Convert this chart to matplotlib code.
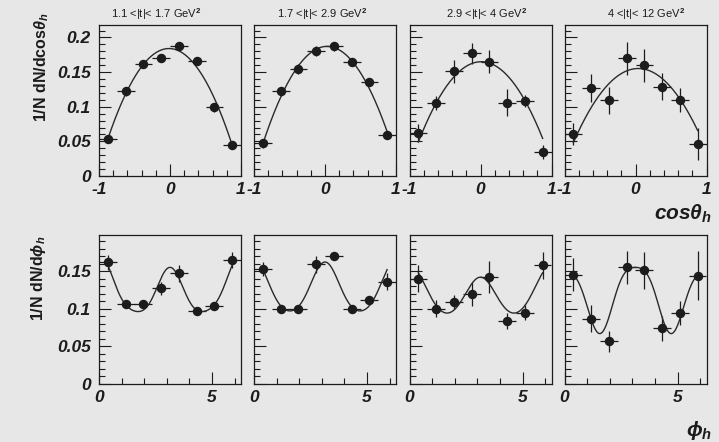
import numpy as np
import matplotlib
matplotlib.use("Agg")
import matplotlib.pyplot as plt
from matplotlib.ticker import FixedLocator, MultipleLocator, NullFormatter

plt.rcParams["font.family"] = ["Liberation Sans", "DejaVu Sans"]
plt.rcParams["mathtext.fontset"] = "custom"
plt.rcParams["mathtext.rm"] = "Liberation Sans:bold"
plt.rcParams["mathtext.it"] = "Liberation Sans:bold:italic"
plt.rcParams["mathtext.bf"] = "Liberation Sans:bold"

# |t| bins
t_bins = ["1.1 <|t|< 1.7 GeV$^{2}$", "1.7 <|t|< 2.9 GeV$^{2}$",
          "2.9 <|t|< 4 GeV$^{2}$", "4 <|t|< 12 GeV$^{2}$"]

# cos(theta_h) distributions
cos_centers = [-0.875, -0.625, -0.375, -0.125, 0.125, 0.375, 0.625, 0.875]
cos_halfwidth = 0.125
cos_vals = [
    [0.054, 0.122, 0.161, 0.170, 0.188, 0.166, 0.099, 0.045],
    [0.047, 0.122, 0.154, 0.180, 0.187, 0.165, 0.136, 0.059],
    [0.062, 0.106, 0.151, 0.177, 0.165, 0.106, 0.108, 0.035],
    [0.061, 0.127, 0.109, 0.170, 0.160, 0.129, 0.110, 0.046],
]
cos_errs = [
    [0.005, 0.006, 0.005, 0.005, 0.005, 0.005, 0.006, 0.005],
    [0.006, 0.007, 0.007, 0.007, 0.006, 0.006, 0.006, 0.006],
    [0.013, 0.010, 0.017, 0.015, 0.017, 0.019, 0.009, 0.010],
    [0.016, 0.020, 0.020, 0.024, 0.024, 0.019, 0.017, 0.023],
]
# fit: p0 + p1*cos + p2*cos^2
cos_fit = [
    [0.184, -0.005, -0.176],
    [0.187, 0.010, -0.172],
    [0.165, 0.003, -0.148],
    [0.155, 0.010, -0.128],
]

# phi_h distributions
phi_centers = [0.393, 1.178, 1.963, 2.749, 3.534, 4.320, 5.105, 5.890]
phi_halfwidth = 0.393
phi_vals = [
    [0.162, 0.106, 0.106, 0.127, 0.147, 0.097, 0.104, 0.165],
    [0.153, 0.100, 0.100, 0.159, 0.170, 0.100, 0.112, 0.136],
    [0.140, 0.100, 0.109, 0.119, 0.142, 0.084, 0.095, 0.158],
    [0.145, 0.087, 0.057, 0.155, 0.151, 0.074, 0.094, 0.144],
]
phi_errs = [
    [0.010, 0.004, 0.004, 0.009, 0.011, 0.004, 0.004, 0.011],
    [0.009, 0.004, 0.004, 0.011, 0.005, 0.004, 0.005, 0.011],
    [0.018, 0.011, 0.009, 0.016, 0.021, 0.011, 0.010, 0.018],
    [0.022, 0.018, 0.014, 0.022, 0.025, 0.017, 0.016, 0.033],
]
# fit: a + b cos(phi) + c cos(2phi) + d cos(4phi)
phi_fit = [
    [0.1256, 0.0092, 0.0336, 0.0050],
    [0.1270, 0.0016, 0.0333, 0.0034],
    [0.1208, 0.0080, 0.0277, 0.0015],
    [0.1175, -0.0030, 0.0425, -0.0080],
]

BG = "#e7e7e7"
INK = "#1c1c1c"
W, H = 719, 442
fig = plt.figure(figsize=(W / 100, H / 100), dpi=100, facecolor=BG)

col_left = [99, 254, 409.5, 564.5]
col_w = 142
rows = {"top": (25, 176), "bot": (235, 384)}


def make_axes(px_left, px_top, px_bottom):
    return fig.add_axes([px_left / W, 1 - px_bottom / H, col_w / W,
                         (px_bottom - px_top) / H], facecolor=BG)


def style(ax, show_y):
    for s in ax.spines.values():
        s.set_color(INK)
        s.set_linewidth(0.9)
    ax.tick_params(which="both", direction="in", top=False, right=False,
                   colors=INK, width=0.8)
    ax.tick_params(which="major", length=8.5)
    ax.tick_params(axis="y", which="major", pad=6)
    ax.tick_params(axis="x", which="major", pad=4)
    ax.tick_params(which="minor", length=4.3)
    for lab in ax.get_xticklabels() + ax.get_yticklabels():
        lab.set_fontfamily("Liberation Sans")
        lab.set_fontweight("bold")
        lab.set_fontstyle("italic")
        lab.set_fontsize(12.5)
    if not show_y:
        ax.yaxis.set_major_formatter(NullFormatter())


title_x = [156, 322, 487, 646]

for i in range(4):
    # cos(theta) row
    ax = make_axes(col_left[i], *rows["top"])
    ax.errorbar(cos_centers, cos_vals[i], xerr=cos_halfwidth, yerr=cos_errs[i],
                fmt="o", ms=5.8, color=INK, ecolor=INK, elinewidth=0.9, capsize=0)
    xc = np.linspace(cos_centers[0], cos_centers[-1], 300)
    p = cos_fit[i]
    ax.plot(xc, p[0] + p[1] * xc + p[2] * xc ** 2, color="#2a2a2a", lw=1.0)
    ax.set_xlim(-1, 1)
    ax.set_ylim(0, 0.218)
    ax.xaxis.set_major_locator(FixedLocator([-1, 0, 1]))
    ax.xaxis.set_minor_locator(MultipleLocator(0.2))
    ax.set_xticklabels(["-1", "0", "1"])
    ax.set_yticks([0, 0.05, 0.1, 0.15, 0.2])
    ax.yaxis.set_minor_locator(MultipleLocator(0.01))
    ax.set_yticklabels(["0", "0.05", "0.1", "0.15", "0.2"])
    style(ax, i == 0)
    fig.text(title_x[i] / W, 1 - 14 / H, t_bins[i], ha="center", va="center",
             fontsize=8, color=INK, family="Liberation Sans")

    # phi row
    ax = make_axes(col_left[i], *rows["bot"])
    ax.errorbar(phi_centers, phi_vals[i], xerr=phi_halfwidth, yerr=phi_errs[i],
                fmt="o", ms=5.8, color=INK, ecolor=INK, elinewidth=0.9, capsize=0)
    xp = np.linspace(phi_centers[0], phi_centers[-1], 400)
    a, b, c, d = phi_fit[i]
    ax.plot(xp, a + b * np.cos(xp) + c * np.cos(2 * xp) + d * np.cos(4 * xp),
            color="#2a2a2a", lw=1.0)
    ax.set_xlim(0, 2 * np.pi)
    ax.set_ylim(0, 0.198)
    ax.xaxis.set_major_locator(FixedLocator([0, 5]))
    ax.xaxis.set_minor_locator(FixedLocator([1, 2, 3, 4, 6]))
    ax.set_xticklabels(["0", "5"])
    ax.set_yticks([0, 0.05, 0.1, 0.15])
    ax.yaxis.set_minor_locator(MultipleLocator(0.01))
    ax.set_yticklabels(["0", "0.05", "0.1", "0.15"])
    style(ax, i == 0)

# axis titles
fig.text(42 / W, 1 - 12 / H, r"1/N dN/dcos$\theta_{h}$", rotation=90,
         ha="center", va="top", fontsize=11.5, fontweight="bold", color=INK)
fig.text(38 / W, 1 - 236 / H, r"1/N dN/d$\phi_{h}$", rotation=90,
         ha="center", va="top", fontsize=11.5, fontweight="bold", color=INK)
fig.text(712 / W, 1 - 220 / H, r"$cos\theta_{h}$", ha="right", va="baseline",
         fontsize=15, color=INK)
fig.text(712 / W, 1 - 430 / H, r"$\phi_{h}$", ha="right", va="center",
         fontsize=15, color=INK)

fig.savefig("out.png", dpi=100, facecolor=BG)
